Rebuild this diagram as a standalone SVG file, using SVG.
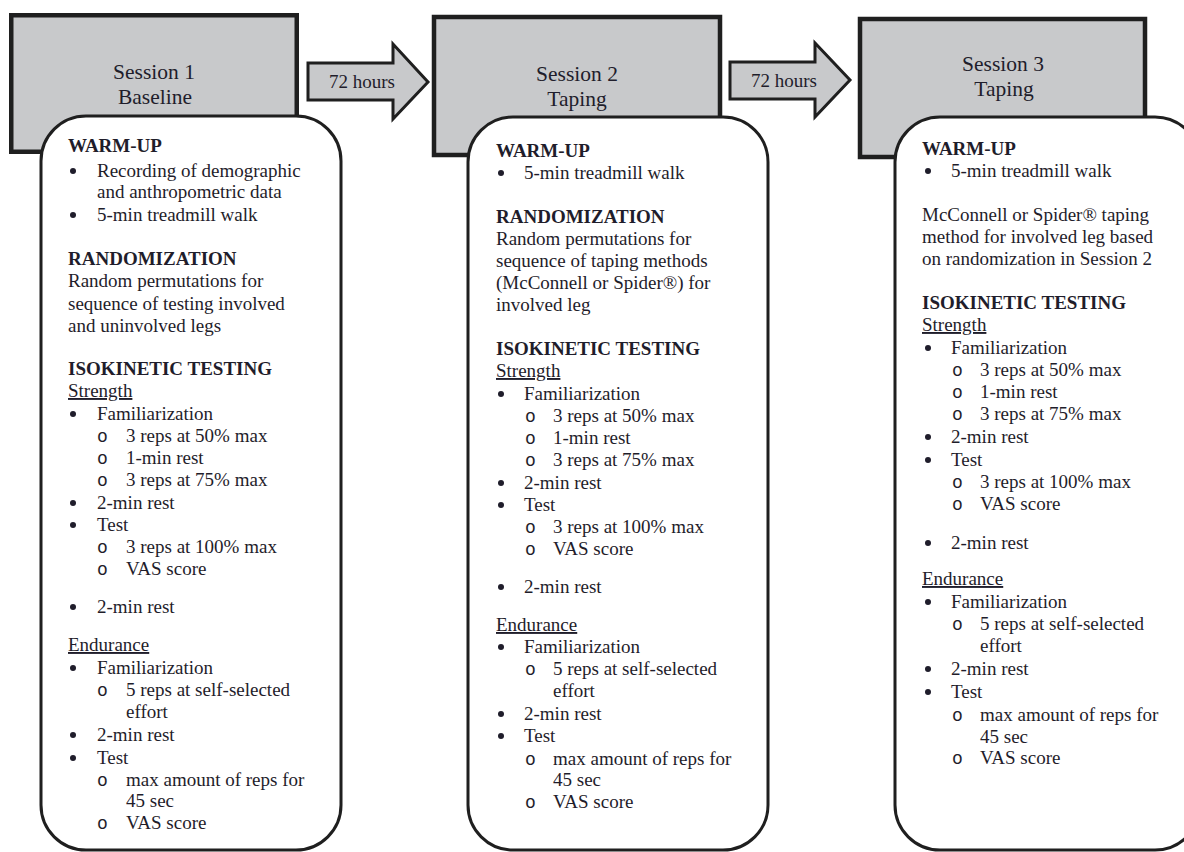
<svg xmlns="http://www.w3.org/2000/svg" width="1184" height="852" viewBox="0 0 1184 852">
<style>
text{font-family:"Liberation Serif","Times New Roman",serif;fill:#1f1d2b;}
.hdr{fill:#c8c9cb;stroke:#1f1f1f;stroke-width:4.5;}
.box{fill:#ffffff;stroke:#1f1f1f;stroke-width:3;}
.arr{fill:#c8c9cb;stroke:#1f1f1f;stroke-width:3;stroke-linejoin:miter;}
.ht{font-size:21.5px;text-anchor:middle;}
.at{font-size:19px;text-anchor:middle;}
.t{font-size:19px;}
.b{font-size:19px;font-weight:bold;}
.u{font-size:19px;text-decoration:underline;}
.o{font-family:"Liberation Mono","Courier New",monospace;font-size:18px;}
.dot{fill:#1f1d2b;}
</style>

<g id="connectors">
  <polygon class="arr" points="308,63 393,63 393,44 428,82 393,119 393,100 308,100"/>
  <text class="at" x="362" y="88">72 hours</text>
  <polygon class="arr" points="730,62 815,62 815,43 850,80 815,117 815,99 730,99"/>
  <text class="at" x="784" y="87">72 hours</text>
</g>

<g id="session1">
  <rect class="hdr" x="11.25" y="15.25" width="285.5" height="136.5"/>
  <text class="ht" x="154" y="79">Session 1</text>
  <text class="ht" x="155" y="104">Baseline</text>
  <rect class="box" x="41" y="116" width="300" height="734" rx="45" ry="45"/>
  <g>
    <text class="b" x="68" y="152">WARM-UP</text>
    <circle class="dot" cx="73" cy="171" r="3"/><text class="t" x="97" y="177">Recording of demographic</text>
    <text class="t" x="97" y="198">and anthropometric data</text>
    <circle class="dot" cx="73" cy="215" r="3"/><text class="t" x="97" y="221">5-min treadmill walk</text>
    <text class="b" x="68" y="265">RANDOMIZATION</text>
    <text class="t" x="68" y="287">Random permutations for</text>
    <text class="t" x="68" y="310">sequence of testing involved</text>
    <text class="t" x="68" y="332">and uninvolved legs</text>
    <text class="b" x="68" y="375">ISOKINETIC TESTING</text>
    <text class="u" x="68" y="397">Strength</text>
    <circle class="dot" cx="73" cy="414" r="3"/><text class="t" x="97" y="420">Familiarization</text>
    <text class="o" x="97" y="442">o</text><text class="t" x="126" y="442">3 reps at 50% max</text>
    <text class="o" x="97" y="464">o</text><text class="t" x="126" y="464">1-min rest</text>
    <text class="o" x="97" y="486">o</text><text class="t" x="126" y="486">3 reps at 75% max</text>
    <circle class="dot" cx="73" cy="503" r="3"/><text class="t" x="97" y="509">2-min rest</text>
    <circle class="dot" cx="73" cy="525" r="3"/><text class="t" x="97" y="531">Test</text>
    <text class="o" x="97" y="553">o</text><text class="t" x="126" y="553">3 reps at 100% max</text>
    <text class="o" x="97" y="575">o</text><text class="t" x="126" y="575">VAS score</text>
    <circle class="dot" cx="73" cy="607" r="3"/><text class="t" x="97" y="613">2-min rest</text>
    <text class="u" x="68" y="651">Endurance</text>
    <circle class="dot" cx="73" cy="668" r="3"/><text class="t" x="97" y="674">Familiarization</text>
    <text class="o" x="97" y="696">o</text><text class="t" x="126" y="696">5 reps at self-selected</text>
    <text class="t" x="126" y="718">effort</text>
    <circle class="dot" cx="73" cy="735" r="3"/><text class="t" x="97" y="741">2-min rest</text>
    <circle class="dot" cx="73" cy="758" r="3"/><text class="t" x="97" y="764">Test</text>
    <text class="o" x="97" y="786">o</text><text class="t" x="126" y="786">max amount of reps for</text>
    <text class="t" x="126" y="807">45 sec</text>
    <text class="o" x="97" y="829">o</text><text class="t" x="126" y="829">VAS score</text>
  </g>
</g>

<g id="session2">
  <rect class="hdr" x="434" y="17" width="286" height="138"/>
  <text class="ht" x="577" y="81">Session 2</text>
  <text class="ht" x="577" y="106">Taping</text>
  <rect class="box" x="468" y="117" width="300" height="733" rx="45" ry="45"/>
  <g>
    <text class="b" x="496" y="157">WARM-UP</text>
    <circle class="dot" cx="501" cy="173" r="3"/><text class="t" x="524" y="179">5-min treadmill walk</text>
    <text class="b" x="496" y="223">RANDOMIZATION</text>
    <text class="t" x="496" y="245">Random permutations for</text>
    <text class="t" x="496" y="267">sequence of taping methods</text>
    <text class="t" x="496" y="289">(McConnell or Spider®) for</text>
    <text class="t" x="496" y="311">involved leg</text>
    <text class="b" x="496" y="355">ISOKINETIC TESTING</text>
    <text class="u" x="496" y="377">Strength</text>
    <circle class="dot" cx="501" cy="394" r="3"/><text class="t" x="524" y="400">Familiarization</text>
    <text class="o" x="525" y="422">o</text><text class="t" x="553" y="422">3 reps at 50% max</text>
    <text class="o" x="525" y="444">o</text><text class="t" x="553" y="444">1-min rest</text>
    <text class="o" x="525" y="466">o</text><text class="t" x="553" y="466">3 reps at 75% max</text>
    <circle class="dot" cx="501" cy="483" r="3"/><text class="t" x="524" y="489">2-min rest</text>
    <circle class="dot" cx="501" cy="505" r="3"/><text class="t" x="524" y="511">Test</text>
    <text class="o" x="525" y="533">o</text><text class="t" x="553" y="533">3 reps at 100% max</text>
    <text class="o" x="525" y="555">o</text><text class="t" x="553" y="555">VAS score</text>
    <circle class="dot" cx="501" cy="587" r="3"/><text class="t" x="524" y="593">2-min rest</text>
    <text class="u" x="496" y="631">Endurance</text>
    <circle class="dot" cx="501" cy="647" r="3"/><text class="t" x="524" y="653">Familiarization</text>
    <text class="o" x="525" y="675">o</text><text class="t" x="553" y="675">5 reps at self-selected</text>
    <text class="t" x="553" y="697">effort</text>
    <circle class="dot" cx="501" cy="714" r="3"/><text class="t" x="524" y="720">2-min rest</text>
    <circle class="dot" cx="501" cy="736" r="3"/><text class="t" x="524" y="742">Test</text>
    <text class="o" x="525" y="765">o</text><text class="t" x="553" y="765">max amount of reps for</text>
    <text class="t" x="553" y="786">45 sec</text>
    <text class="o" x="525" y="808">o</text><text class="t" x="553" y="808">VAS score</text>
  </g>
</g>

<g id="session3">
  <rect class="hdr" x="860" y="19" width="285" height="138"/>
  <text class="ht" x="1003" y="71">Session 3</text>
  <text class="ht" x="1004" y="96">Taping</text>
  <rect class="box" x="895" y="117" width="305" height="733" rx="45" ry="45"/>
  <g>
    <text class="b" x="922" y="155">WARM-UP</text>
    <circle class="dot" cx="928" cy="171" r="3"/><text class="t" x="951" y="177">5-min treadmill walk</text>
    <text class="t" x="922" y="221">McConnell or Spider® taping</text>
    <text class="t" x="922" y="243">method for involved leg based</text>
    <text class="t" x="922" y="265">on randomization in Session 2</text>
    <text class="b" x="922" y="309">ISOKINETIC TESTING</text>
    <text class="u" x="922" y="331">Strength</text>
    <circle class="dot" cx="928" cy="348" r="3"/><text class="t" x="951" y="354">Familiarization</text>
    <text class="o" x="952" y="376">o</text><text class="t" x="980" y="376">3 reps at 50% max</text>
    <text class="o" x="952" y="398">o</text><text class="t" x="980" y="398">1-min rest</text>
    <text class="o" x="952" y="420">o</text><text class="t" x="980" y="420">3 reps at 75% max</text>
    <circle class="dot" cx="928" cy="437" r="3"/><text class="t" x="951" y="443">2-min rest</text>
    <circle class="dot" cx="928" cy="460" r="3"/><text class="t" x="951" y="466">Test</text>
    <text class="o" x="952" y="488">o</text><text class="t" x="980" y="488">3 reps at 100% max</text>
    <text class="o" x="952" y="510">o</text><text class="t" x="980" y="510">VAS score</text>
    <circle class="dot" cx="928" cy="543" r="3"/><text class="t" x="951" y="549">2-min rest</text>
    <text class="u" x="922" y="585">Endurance</text>
    <circle class="dot" cx="928" cy="602" r="3"/><text class="t" x="951" y="608">Familiarization</text>
    <text class="o" x="952" y="630">o</text><text class="t" x="980" y="630">5 reps at self-selected</text>
    <text class="t" x="980" y="652">effort</text>
    <circle class="dot" cx="928" cy="669" r="3"/><text class="t" x="951" y="675">2-min rest</text>
    <circle class="dot" cx="928" cy="692" r="3"/><text class="t" x="951" y="698">Test</text>
    <text class="o" x="952" y="721">o</text><text class="t" x="980" y="721">max amount of reps for</text>
    <text class="t" x="980" y="743">45 sec</text>
    <text class="o" x="952" y="764">o</text><text class="t" x="980" y="764">VAS score</text>
  </g>
</g>
</svg>
